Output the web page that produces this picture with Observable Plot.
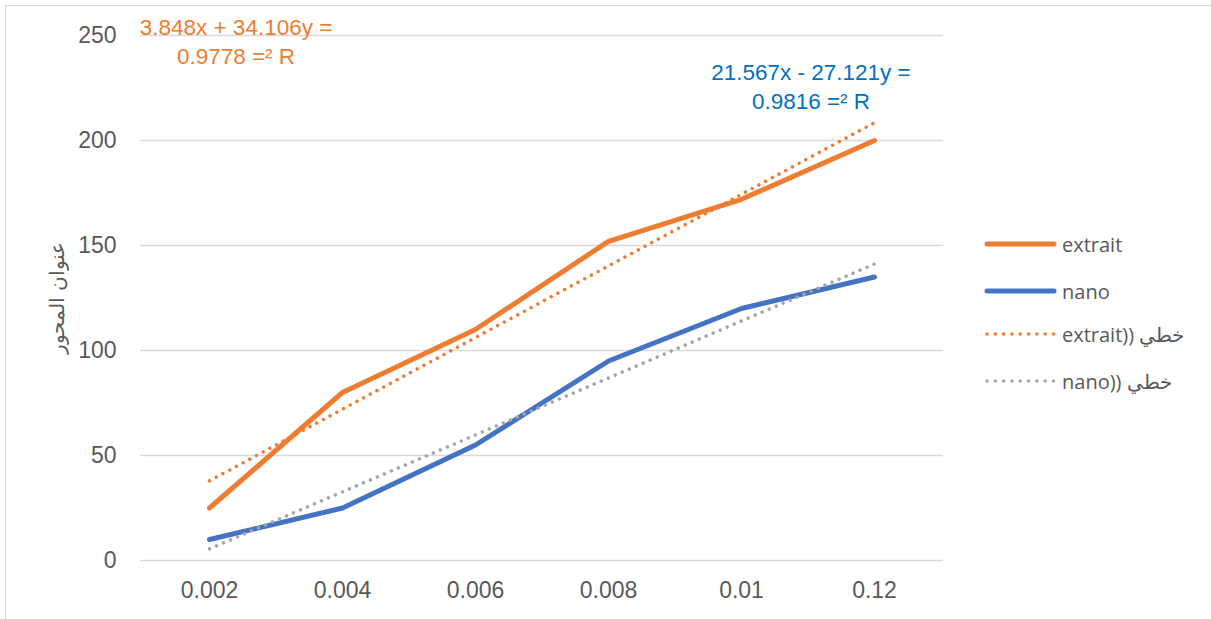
<!DOCTYPE html>
<html>
<head>
<meta charset="utf-8">
<script src="https://cdn.jsdelivr.net/npm/d3@7"></script>
<script src="https://cdn.jsdelivr.net/npm/@observablehq/plot@0.6"></script>
<style>
  html, body { margin: 0; padding: 0; background: #fff; }
  #chart { position: relative; width: 1211px; height: 619px; overflow: hidden; }
  #chart > svg { position: absolute; left: 0; top: 0; }
  .border { position: absolute; left: 5px; top: 5px; width: 1300px; height: 700px;
            border-left: 1.5px solid #D9D9D9; border-top: 1.5px solid #D9D9D9; }
  .eq { position: absolute; font-family: "Liberation Sans", Arial, sans-serif; font-size: 22.5px;
        line-height: 29px; text-align: center; white-space: nowrap; direction: ltr; }
  .legend { position: absolute; left: 983px; top: 226px; width: 220px; height: 180px;
            font-family: "Open Sans", "Liberation Sans", sans-serif; font-size: 20px; color: #595959; }
  .legend .row { position: absolute; left: 0; width: 220px; height: 36px; display: flex; align-items: center;
                 white-space: nowrap; direction: ltr; }
  .legend svg { flex: none; margin-right: 5px; }
</style>
</head>
<body>
<div id="chart"><div class="border"></div></div>
<script>
// Categories along the x axis
const categories = ["0.002", "0.004", "0.006", "0.008", "0.01", "0.12"];
// Measured series
const extrait = [25, 80, 110, 152, 172, 200];
const nano = [10, 25, 55, 95, 120, 135];
// Linear trend coefficients (x = category index 1..6) and R²
const extraitSlope = 34.106, extraitIntercept = 3.848, extraitR2 = 0.9778;
const nanoSlope = 27.121, nanoIntercept = -21.567, nanoR2 = 0.9816;
// Axis ticks
const yTicks = [0, 50, 100, 150, 200, 250];
const yTitle = "عنوان المحور";
const legendLabels = ["extrait", "nano", "extrait)) خطي", "nano)) خطي"];

const ORANGE = "#ED7D31", BLUE = "#4472C4", GRAY = "#A5A5A5", TEXT = "#595959";

const rows = (vals, series) => vals.map((v, i) => ({cat: categories[i], value: v, series}));
const trend = (m, b, series) => categories.map((c, i) => ({cat: c, value: m * (i + 1) + b, series}));

const lines = {
  extrait: rows(extrait, "extrait"),
  nano: rows(nano, "nano")
};
const trends = {
  extrait: trend(extraitSlope, extraitIntercept, "extrait"),
  nano: trend(nanoSlope, nanoIntercept, "nano")
};

const dotted = {strokeWidth: 3.5, strokeDasharray: "0.01 7.6", strokeLinecap: "round"};

const plot = Plot.plot({
  width: 1211,
  height: 619,
  marginLeft: 140,
  marginRight: 268,
  marginTop: 35,
  marginBottom: 59,
  style: {fontFamily: "'Liberation Sans', Arial, sans-serif", fontSize: "23px", color: TEXT, background: "transparent"},
  x: {type: "point", domain: categories, padding: 0.5},
  y: {domain: [0, 250]},
  marks: [
    Plot.gridY(yTicks, {stroke: "#D9D9D9", strokeOpacity: 1, strokeWidth: 1.5}),
    Plot.axisY(yTicks, {tickSize: 0, tickPadding: 24, label: null, fill: TEXT}),
    Plot.axisX({tickSize: 0, tickPadding: 21, label: null, fill: TEXT}),
    Plot.text([yTitle], {frameAnchor: "left", textAnchor: "middle", dx: -83, rotate: -90, fill: TEXT,
      fontSize: 20, fontFamily: "'Open Sans', sans-serif"}),
    Plot.line(lines.extrait, {x: "cat", y: "value", stroke: ORANGE, strokeWidth: 5, strokeLinecap: "round", strokeLinejoin: "round"}),
    Plot.line(lines.nano, {x: "cat", y: "value", stroke: BLUE, strokeWidth: 5, strokeLinecap: "round", strokeLinejoin: "round"}),
    Plot.line(trends.extrait, {x: "cat", y: "value", stroke: ORANGE, ...dotted}),
    Plot.line(trends.nano, {x: "cat", y: "value", stroke: GRAY, ...dotted})
  ]
});

const chart = document.getElementById("chart");
chart.appendChild(plot);

// Trend equation labels
function eqText(m, b, r2) {
  return `${Math.abs(b)}x ${b < 0 ? "-" : "+"} ${m}y =<br>${r2} =² R`;
}
function addEq(html, color, left, top) {
  const d = document.createElement("div");
  d.className = "eq";
  d.style.color = color;
  d.style.left = left + "px";
  d.style.top = top + "px";
  d.style.width = "300px";
  d.innerHTML = html;
  chart.appendChild(d);
}
addEq(eqText(extraitSlope, extraitIntercept, extraitR2), ORANGE, 86, 13);
addEq(eqText(nanoSlope, nanoIntercept, nanoR2), "#0070C0", 661, 58);

// Legend
const legend = document.createElement("div");
legend.className = "legend";
const items = [
  {label: legendLabels[0], color: ORANGE, dots: false},
  {label: legendLabels[1], color: BLUE, dots: false},
  {label: legendLabels[2], color: ORANGE, dots: true},
  {label: legendLabels[3], color: GRAY, dots: true}
];
const rowTops = [0, 47, 90, 137];
items.forEach((it, i) => {
  const r = document.createElement("div");
  r.className = "row";
  r.style.top = rowTops[i] + "px";
  const s = d3.create("svg").attr("width", 74).attr("height", 12);
  s.append("line").attr("x1", 4).attr("x2", 71).attr("y1", 6).attr("y2", 6)
    .attr("stroke", it.color)
    .attr("stroke-width", it.dots ? 3.6 : 5)
    .attr("stroke-linecap", "round")
    .attr("stroke-dasharray", it.dots ? "0.01 8.3" : null);
  r.appendChild(s.node());
  const t = document.createElement("span");
  t.textContent = it.label;
  r.appendChild(t);
  legend.appendChild(r);
});
chart.appendChild(legend);
</script>
</body>
</html>
